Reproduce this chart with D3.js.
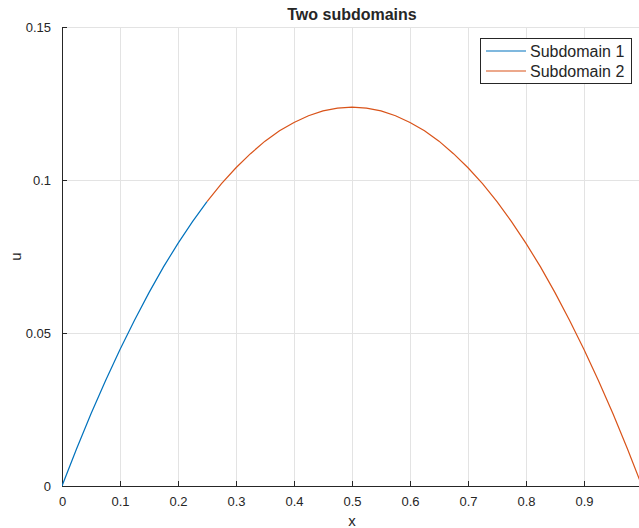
<!DOCTYPE html>
<html lang="en">
<head>
  <meta charset="UTF-8">
  <title>Two subdomains</title>
  <style>
    html,
    body {
      margin: 0;
      padding: 0;
      background: #fff;
      overflow: hidden;
    }
    text {
      font-family: "Liberation Sans", Arial, sans-serif;
      fill: #262626;
    }
  </style>
</head>
<body>
<div id="chart"></div>

<script src="https://d3js.org/d3.v7.min.js"></script>
<script>
  // values
  const x1 = [0, 0.025, 0.05, 0.075, 0.1, 0.125, 0.15, 0.175, 0.2, 0.225, 0.25];
  const u1 = [0, 0.0121, 0.0236, 0.0344, 0.0446, 0.0542, 0.0632, 0.0716, 0.0793, 0.0864, 0.0929];

  const x2 = [0.25, 0.275, 0.3, 0.325, 0.35, 0.375, 0.4, 0.425, 0.45, 0.475, 0.5,
    0.525, 0.55, 0.575, 0.6, 0.625, 0.65, 0.675, 0.7, 0.725, 0.75,
    0.775, 0.8, 0.825, 0.85, 0.875, 0.9, 0.925, 0.95, 0.975, 1];
  const u2 = [0.0929, 0.0988, 0.104, 0.1086, 0.1127, 0.1161, 0.1188, 0.121, 0.1226, 0.1235, 0.1238,
    0.1235, 0.1226, 0.121, 0.1188, 0.1161, 0.1127, 0.1086, 0.104, 0.0988, 0.0929,
    0.0864, 0.0793, 0.0716, 0.0632, 0.0542, 0.0446, 0.0344, 0.0236, 0.0121, 0];

  const xTicks = [0, 0.1, 0.2, 0.3, 0.4, 0.5, 0.6, 0.7, 0.8, 0.9];
  const yTicks = [0, 0.05, 0.1, 0.15];
  const seriesNames = ['Subdomain 1', 'Subdomain 2'];
  const seriesColors = ['#0072BD', '#D95319'];

  const width = 639;
  const height = 528;
  const margin = { top: 27, left: 62, bottom: 42 };
  const plotRight = 642; // x = 1 lies just past the window edge

  const x = d3.scaleLinear().domain([0, 1]).range([margin.left, plotRight]);
  const y = d3.scaleLinear().domain([0, 0.15]).range([height - margin.bottom, margin.top]);

  const svg = d3.select('#chart').append('svg')
    .attr('width', width)
    .attr('height', height);

  // grid
  const grid = svg.append('g')
    .attr('stroke', '#e3e3e3')
    .attr('stroke-width', 1)
    .attr('shape-rendering', 'crispEdges');

  grid.selectAll('line.gx')
    .data(xTicks.filter(d => d > 0))
    .join('line')
    .attr('class', 'gx')
    .attr('x1', d => x(d)).attr('x2', d => x(d))
    .attr('y1', y(0.15)).attr('y2', y(0));

  grid.selectAll('line.gy')
    .data(yTicks.filter(d => d > 0))
    .join('line')
    .attr('class', 'gy')
    .attr('x1', x(0)).attr('x2', plotRight)
    .attr('y1', d => y(d)).attr('y2', d => y(d));

  // axes
  const xAxis = d3.axisBottom(x)
    .tickValues(xTicks)
    .tickFormat(d => d3.format('~g')(d))
    .tickSizeInner(-5)
    .tickSizeOuter(0)
    .tickPadding(11);

  const yAxis = d3.axisLeft(y)
    .tickValues(yTicks)
    .tickFormat(d => d3.format('~g')(d))
    .tickSizeInner(-5)
    .tickSizeOuter(0)
    .tickPadding(11);

  const gx = svg.append('g')
    .attr('transform', `translate(0,${y(0)})`)
    .call(xAxis);

  const gy = svg.append('g')
    .attr('transform', `translate(${x(0)},0)`)
    .call(yAxis);

  [gx, gy].forEach(g => {
    g.select('.domain').attr('stroke', '#262626').attr('shape-rendering', 'crispEdges');
    g.selectAll('.tick line').attr('stroke', '#262626').attr('shape-rendering', 'crispEdges');
    g.selectAll('.tick text')
      .attr('font-size', 13)
      .attr('font-family', '"Liberation Sans", Arial, sans-serif')
      .attr('fill', '#262626');
  });
  gy.selectAll('.tick text').attr('dy', '0.35em');

  // curves
  const line = d3.line()
    .x(d => x(d[0]))
    .y(d => y(d[1]));

  const series = [
    d3.zip(x1, u1),
    d3.zip(x2, u2),
  ];

  svg.append('clipPath').attr('id', 'clip')
    .append('rect')
    .attr('x', margin.left).attr('y', margin.top - 2)
    .attr('width', plotRight - margin.left).attr('height', y(0) - margin.top + 4);

  svg.append('g')
    .attr('clip-path', 'url(#clip)')
    .selectAll('path')
    .data(series)
    .join('path')
    .attr('fill', 'none')
    .attr('stroke', (d, i) => seriesColors[i])
    .attr('stroke-width', 1.2)
    .attr('d', line);

  // title and labels
  svg.append('text')
    .attr('x', (margin.left + plotRight) / 2)
    .attr('y', 19.5)
    .attr('text-anchor', 'middle')
    .attr('font-size', 16)
    .attr('font-weight', 'bold')
    .attr('fill', '#000')
    .text('Two subdomains');

  svg.append('text')
    .attr('x', (margin.left + plotRight) / 2)
    .attr('y', 526)
    .attr('text-anchor', 'middle')
    .attr('font-size', 15)
    .text('x');

  svg.append('text')
    .attr('transform', `translate(21,${(y(0) + y(0.15)) / 2}) rotate(-90)`)
    .attr('text-anchor', 'middle')
    .attr('font-size', 15)
    .text('u');

  // legend
  const legend = svg.append('g');
  legend.append('rect')
    .attr('x', 480.5).attr('y', 38.5)
    .attr('width', 151).attr('height', 45)
    .attr('fill', '#fff')
    .attr('stroke', '#262626')
    .attr('stroke-width', 1);

  const items = legend.selectAll('g.item')
    .data(seriesNames)
    .join('g')
    .attr('class', 'item')
    .attr('transform', (d, i) => `translate(0,${51 + i * 20})`);

  items.append('line')
    .attr('x1', 486).attr('x2', 526)
    .attr('y1', 0).attr('y2', 0)
    .attr('stroke', (d, i) => seriesColors[i])
    .attr('stroke-width', 1.2);

  items.append('text')
    .attr('x', 530)
    .attr('y', 6)
    .attr('font-size', 16)
    .attr('fill', '#000')
    .text(d => d);
</script>
</body>
</html>
